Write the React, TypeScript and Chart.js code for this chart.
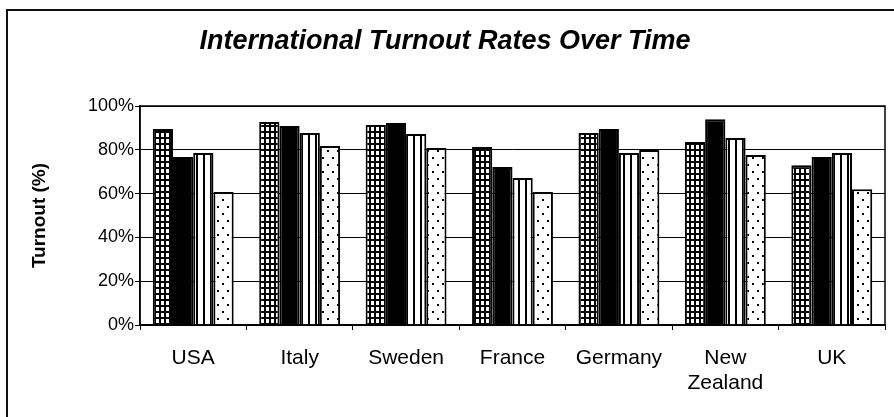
import React, { useEffect, useRef } from "react";
import { Chart, registerables } from "chart.js";

Chart.register(...registerables);

const categories: (string | string[])[] = ["USA", "Italy", "Sweden", "France", "Germany", ["New", "Zealand"], "UK"];
const seriesGrid = [89.5, 92.7, 91.3, 81.3, 87.7, 83.6, 73.0];
const seriesSolid = [76.7, 90.9, 92.2, 72.1, 89.5, 94.0, 76.7];
const seriesStripe = [78.5, 87.7, 87.2, 67.1, 78.5, 85.4, 78.5];
const seriesDots = [60.7, 81.7, 80.8, 60.7, 79.9, 77.6, 62.0];
const yTicks = [0, 20, 40, 60, 80, 100];
const titleText = "International Turnout Rates Over Time";
const yTitleText = "Turnout (%)";

const FONT = "'Liberation Sans', Arial, sans-serif";

function makePattern(kind: string): CanvasPattern | string {
  const c = document.createElement("canvas");
  const ctx = c.getContext("2d")!;
  if (kind === "grid") {
    c.width = 5; c.height = 6;
    ctx.fillStyle = "#000"; ctx.fillRect(0, 0, 5, 6);
    ctx.fillStyle = "#fff"; ctx.fillRect(1, 1, 3, 4);
  } else if (kind === "stripe") {
    c.width = 7; c.height = 4;
    ctx.fillStyle = "#fff"; ctx.fillRect(0, 0, 7, 4);
    ctx.fillStyle = "#000"; ctx.fillRect(0, 0, 2, 4);
  } else {
    c.width = 10; c.height = 14;
    ctx.fillStyle = "#fff"; ctx.fillRect(0, 0, 10, 14);
    ctx.fillStyle = "#000";
    ctx.fillRect(2, 3, 2, 2);
    ctx.fillRect(7, 10, 2, 2);
  }
  return ctx.createPattern(c, "repeat") as CanvasPattern;
}

const decorPlugin = {
  id: "decor",
  beforeDraw(chart: any) {
    const ctx = chart.ctx;
    ctx.save();
    ctx.fillStyle = "#fff";
    ctx.fillRect(0, 0, chart.width, chart.height);
    ctx.strokeStyle = "#111";
    ctx.lineWidth = 2;
    ctx.beginPath();
    ctx.moveTo(7, chart.height);
    ctx.lineTo(7, 10);
    ctx.lineTo(chart.width, 10);
    ctx.stroke();
    ctx.restore();
  },
  afterDraw(chart: any) {
    const ctx = chart.ctx;
    const a = chart.chartArea;
    ctx.save();
    ctx.strokeStyle = "#000";
    ctx.lineWidth = 1.5;
    ctx.strokeRect(a.left, a.top, a.right - a.left, a.bottom - a.top);
    ctx.fillStyle = "#000";
    ctx.font = `italic bold 27px ${FONT}`;
    ctx.textAlign = "center";
    ctx.textBaseline = "middle";
    ctx.fillText(titleText, 445, 42);
    ctx.translate(40, (a.top + a.bottom) / 2);
    ctx.rotate(-Math.PI / 2);
    ctx.font = `bold 19px ${FONT}`;
    ctx.fillText(yTitleText, 0, 0);
    ctx.restore();
  },
};

export default function App() {
  const ref = useRef<HTMLCanvasElement>(null);
  useEffect(() => {
    document.body.style.margin = "0";
    const common = {
      borderColor: "#000",
      borderWidth: 2,
      borderSkipped: "bottom" as const,
      barPercentage: 1.0,
      categoryPercentage: 0.76,
    };
    const chart = new Chart(ref.current!, {
      type: "bar",
      data: {
        labels: categories,
        datasets: [
          { label: "A", data: seriesGrid, backgroundColor: makePattern("grid"), ...common },
          { label: "B", data: seriesSolid, backgroundColor: "#000", ...common },
          { label: "C", data: seriesStripe, backgroundColor: makePattern("stripe"), ...common },
          { label: "D", data: seriesDots, backgroundColor: makePattern("dots"), ...common },
        ],
      },
      options: {
        animation: false,
        responsive: false,
        maintainAspectRatio: false,
        layout: { padding: { left: 0, right: 9, top: 106, bottom: 0 } },
        plugins: { legend: { display: false }, tooltip: { enabled: false }, title: { display: false } },
        scales: {
          x: {
            offset: true,
            grid: { offset: true, drawOnChartArea: false, drawTicks: true, tickLength: 5, color: "#000", lineWidth: 1 },
            border: { display: true, color: "#000", width: 1.5 },
            ticks: { color: "#000", font: { family: FONT, size: 21, lineHeight: 1.22 }, padding: 15, maxRotation: 0, autoSkip: false },
            afterFit: (s: any) => { s.height = 92; },
          },
          y: {
            min: 0,
            max: 100,
            afterBuildTicks: (s: any) => { s.ticks = yTicks.map((v) => ({ value: v })); },
            grid: { color: "#000", lineWidth: 1, tickLength: 5, drawTicks: true },
            border: { display: true, color: "#000", width: 1.5 },
            ticks: { color: "#000", font: { family: FONT, size: 18 }, padding: 1, callback: (v: any) => v + "%" },
            afterFit: (s: any) => { s.width = 140; },
          },
        },
      },
      plugins: [decorPlugin],
    });
    return () => chart.destroy();
  }, []);
  return (
    <div style={{ position: "absolute", left: 0, top: 0, width: 894, height: 417 }}>
      <canvas ref={ref} width={894} height={417} style={{ width: 894, height: 417, display: "block" }} />
    </div>
  );
}
